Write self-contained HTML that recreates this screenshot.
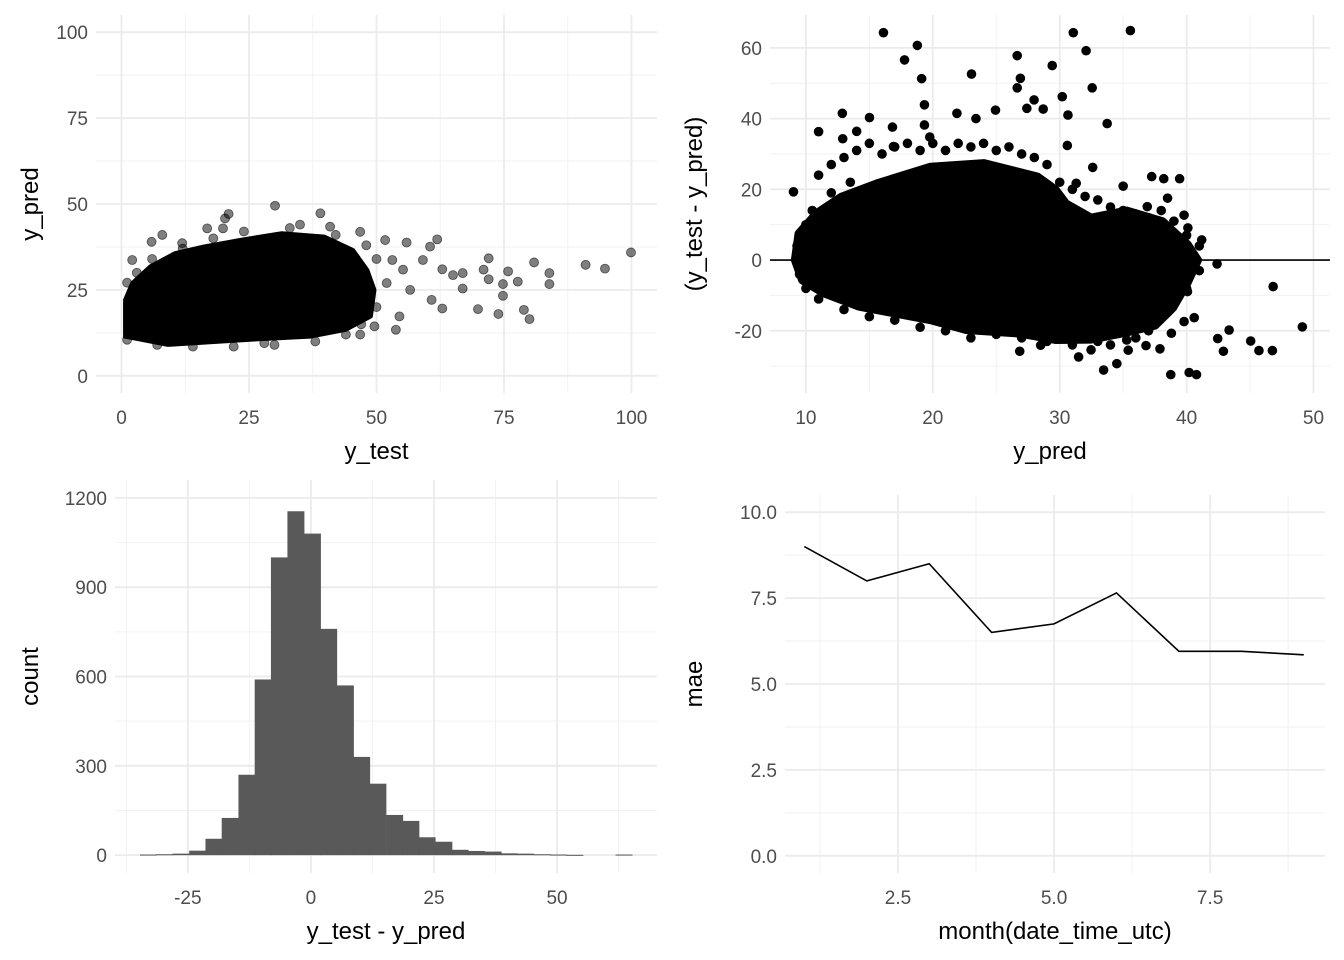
<!DOCTYPE html>
<html><head><meta charset="utf-8"><style>
html,body{margin:0;padding:0;background:#fff;}
svg{display:block;font-family:"Liberation Sans",sans-serif;}
.tick{fill:#4d4d4d;font-size:19px;}
.title{fill:#000;font-size:24px;}
</style></head><body>
<svg id="chart" width="1344" height="960" viewBox="0 0 1344 960" xmlns="http://www.w3.org/2000/svg"></svg>
<script>
// ---------- Panel 1: y_test vs y_pred ----------
const p1CoreX=[0.7,0.7,9.1,25.2,37.0,44.0,48.9,49.6,48.2,45.4,39.8,31.4,23.1,16.1,10.5,5.6,2.1];
const p1CoreY=[22.1,11.4,9.0,10.5,11.4,13.4,17.3,25.0,30.8,36.6,40.5,41.5,39.5,37.6,35.7,31.8,27.0];
const p1X=[30.1,39.0,21.0,20.3,19.9,8.0,5.9,46.8,55.9,61.9,60.5,59.1,62.9,65.0,66.9,66.9,69.9,71.0,72.0,72.0,74.8,74.8,73.9,75.8,77.7,78.9,80.0,80.9,83.9,83.9,91.0,94.8,99.9,53.8,46.8,28.0,1.1,1.1,2.1,11.9,16.8,40.9,51.7,53.1,55.2,56.6,54.5,49.6,60.8,62.9,3,6,12,18,24,33,42,50,52,50,47,44,38,30,22,14,7,2,35,48];
const p1Y=[49.5,47.3,47.1,45.8,42.9,41.0,39.0,41.9,38.8,39.7,37.6,33.7,31.0,29.3,29.9,25.4,19.4,30.9,34.2,28.1,26.7,23.3,18.0,30.4,27.4,19.2,16.5,33.0,29.9,26.7,32.3,31.2,35.9,13.4,12.0,9.5,10.5,27.1,33.7,38.6,42.9,43.4,39.5,33.7,30.9,25.0,17.3,14.4,22.1,19.6,30,34,37,40,42,43,41,34,27,20,15,12,10,9,8.5,8.5,9,16,44,38];
const p1XTicks=[0,25,50,75,100];
const p1YTicks=[0,25,50,75,100];

// ---------- Panel 2: residuals vs y_pred ----------
const p2CoreX=[9.13,9.42,10.82,12.79,15.6,19.82,24.04,28.26,29.66,30.5,32.47,35.28,38.1,40.07,40.9,40.07,38.94,37.54,35.28,32.47,29.66,26.85,22.63,19.82,17.0,14.2,11.39,9.7];
const p2CoreY=[0,7.5,13.2,17.9,21.7,26.4,27.4,23.6,20.0,16.0,12.0,14.0,11.0,4.5,0,-6.5,-13.5,-18.5,-20.5,-22.5,-22.6,-20.8,-19.8,-17.0,-15.1,-13.2,-9.4,-5.7];
const p2X=[16.11,18.78,17.77,19.12,23.05,31.07,35.57,32.08,26.65,29.41,26.9,26.65,32.56,19.34,27.98,27.41,28.7,30.2,30.65,24.94,21.9,23.4,33.74,12.87,15.01,16.82,11.0,14.0,12.9,19.34,19.76,16.9,30.6,9.02,37.25,38.2,39.45,32.6,31.3,35.0,38.5,36.9,39.8,40.1,41.19,42.4,46.82,49.12,43.35,42.45,42.9,45.05,45.7,46.76,38.75,40.2,40.78,33.46,34.5,31.49,26.85,28.5,35.4,37.9,36.8,40.6,39.8,38.8,40.07,35.28,32.47,
11,12,13,14,15,16,17,18,19,20,21,22,23,24,25,26,27,28,29,30,31,32,33,34,35,36,37,38,39,40,41,41,40,39,38,37,36,34,33,31,29,27,25,23,21,19,17,15,13,11,10,9.5,9.3,10,10.5,12,13.5];
const p2Y=[64.3,60.7,56.6,51.3,52.6,64.3,64.9,59.2,57.8,55.0,51.4,48.7,48.7,43.9,45.3,42.9,42.7,46.2,41.0,42.4,41.5,40.0,38.6,41.5,40.3,37.6,36.3,36.4,34.3,38.2,34.8,32.1,32.4,19.3,23.6,23.0,23.0,26.2,21.7,20.9,17.5,15.1,12.7,9.1,5.7,-1.1,-7.5,-18.9,-19.8,-22.2,-25.8,-22.9,-25.6,-25.6,-32.4,-31.8,-32.4,-31.1,-29.3,-27.4,-25.8,-24.1,-25.5,-25.1,-24.2,-16.3,-17.4,-20.7,-8.9,-22.6,-25.4,
24,27,29,31,33,30,32,33,31,33,31,33,32,33,31,32,30,29,27,22,20,18,17,15,14,13,12,14,11,7,4,-3,-8,-12,-14,-20,-22,-24,-23,-24,-23,-22,-21,-22,-20,-19,-17,-16,-14,-11,-8,-4,4,10,14,19,22];
const p2XTicks=[10,20,30,40,50];
const p2YTicks=[-20,0,20,40,60];

// ---------- Panel 3: histogram ----------
const binCenters=[-33.0,-29.7,-26.4,-23.0,-19.7,-16.4,-13.0,-9.7,-6.4,-3.05,0.3,3.6,7.0,10.3,13.6,17.0,20.3,23.6,27.0,30.3,33.6,37.0,40.3,43.6,47.0,50.3,53.6,57.0,60.3,63.6];
const binCounts=[2,3,5,15,55,125,270,590,1000,1155,1080,760,570,330,240,135,115,60,45,18,14,12,6,5,3,2,1,0,0,2];
const binWidth=3.33;
const p3XTicks=[-25,0,25,50];
const p3YTicks=[0,300,600,900,1200];

// ---------- Panel 4: mae by month ----------
const months=[1,2,3,4,5,6,7,8,9];
const maeValues=[9.0,8.0,8.5,6.5,6.75,7.65,5.95,5.95,5.85];
const p4XTicks=[2.5,5.0,7.5];
const p4YTicks=[0.0,2.5,5.0,7.5,10.0];

const NS="http://www.w3.org/2000/svg";
const svg=document.getElementById('chart');
function mk(tag,attrs,parent){const e=document.createElementNS(NS,tag);for(const k in attrs)e.setAttribute(k,attrs[k]);(parent||svg).appendChild(e);return e;}
function lin(d0,d1,r0,r1){return v=>r0+(v-d0)*(r1-r0)/(d1-d0);}

function panel(name,box,xd,yd,xT,yT,xTitle,yTitle,fmt){
  const g=mk('g',{});
  
  
  const sx=lin(xd[0],xd[1],box.l,box.r), sy=lin(yd[0],yd[1],box.b,box.t);
  const step=xT[1]-xT[0], ystep=yT[1]-yT[0];
  for(let v=xT[0]-step/2; v<=xT[xT.length-1]+step; v+=step){const x=sx(v); if(x>box.l&&x<box.r) mk('line',{x1:x,x2:x,y1:box.t,y2:box.b,stroke:'#f2f2f2','stroke-width':1},g);}
  for(let v=yT[0]-ystep/2; v<=yT[yT.length-1]+ystep; v+=ystep){const y=sy(v); if(y>box.t&&y<box.b) mk('line',{x1:box.l,x2:box.r,y1:y,y2:y,stroke:'#f2f2f2','stroke-width':1},g);}
  xT.forEach(v=>{const x=sx(v);mk('line',{x1:x,x2:x,y1:box.t,y2:box.b,stroke:'#ebebeb','stroke-width':1.8},g);
    const t=mk('text',{x:x,y:box.b+31,'text-anchor':'middle',class:'tick'},g);t.textContent=fmt?fmt(v):v;
    
    });
  yT.forEach(v=>{const y=sy(v);mk('line',{x1:box.l,x2:box.r,y1:y,y2:y,stroke:'#ebebeb','stroke-width':1.8},g);
    const t=mk('text',{x:box.l-8,y:y+7,'text-anchor':'end',class:'tick'},g);t.textContent=fmt?fmt(v):v;
    
    });
  const xt=mk('text',{x:(box.l+box.r)/2,y:box.b+66,'text-anchor':'middle',class:'title'},g);xt.textContent=xTitle;
  
  
  const cy=(box.t+box.b)/2;
  const yt=mk('text',{x:box.yx,y:cy,'text-anchor':'middle',class:'title',transform:`rotate(-90 ${box.yx} ${cy})`},g);yt.textContent=yTitle;
  
  
  return {g,sx,sy};
}

// Panel 1
const P1=panel('scatter-ytest-ypred',{l:96,r:657,t:15,b:393,yx:38},[-5,105],[-5,105],p1XTicks,p1YTicks,'y_test','y_pred');
let pts=p1CoreX.map((x,i)=>P1.sx(x)+','+P1.sy(p1CoreY[i])).join(' ');
const c1=mk('polygon',{points:pts,fill:'#000',stroke:'#000','stroke-width':4,'stroke-linejoin':'round'},P1.g);


p1X.forEach((x,i)=>{const c=mk('circle',{cx:P1.sx(x),cy:P1.sy(p1Y[i]),r:4.5,fill:'rgba(0,0,0,0.5)',stroke:'rgba(0,0,0,0.6)','stroke-width':0.8},P1.g);
  
  });

// Panel 2
const P2=panel('residuals-vs-pred',{l:770,r:1330,t:15,b:393,yx:702},[7.17,51.3],[-37.6,69.3],p2XTicks,p2YTicks,'y_pred','(y_test - y_pred)');
pts=p2CoreX.map((x,i)=>P2.sx(x)+','+P2.sy(p2CoreY[i])).join(' ');
const c2=mk('polygon',{points:pts,fill:'#000',stroke:'#000','stroke-width':8,'stroke-linejoin':'round'},P2.g);


p2X.forEach((x,i)=>{const c=mk('circle',{cx:P2.sx(x),cy:P2.sy(p2Y[i]),r:4.8,fill:'#000'},P2.g);
  
  });
const zl=mk('line',{x1:770,x2:1330,y1:P2.sy(0),y2:P2.sy(0),stroke:'#000','stroke-width':1.6},P2.g);



// Panel 3
const P3=panel('residual-histogram',{l:115,r:657,t:480,b:873,yx:38},[-39.8,70.3],[-60,1260],p3XTicks,p3YTicks,'y_test - y_pred','count');
binCenters.forEach((c,i)=>{if(binCounts[i]<=0)return;const x0=P3.sx(c-binWidth/2),x1=P3.sx(c+binWidth/2),y=P3.sy(binCounts[i]),y0=P3.sy(0);
  const r=mk('rect',{x:x0-0.3,y:y,width:x1-x0+0.6,height:Math.max(y0-y,1),fill:'#595959'},P3.g);
  
  });

// Panel 4
const P4=panel('mae-by-month',{l:785,r:1325,t:495,b:873,yx:702},[0.69,9.34],[-0.5,10.5],p4XTicks,p4YTicks,'month(date_time_utc)','mae',v=>v.toFixed(1));
const lp=mk('polyline',{points:months.map((m,i)=>P4.sx(m)+','+P4.sy(maeValues[i])).join(' '),fill:'none',stroke:'#000','stroke-width':1.6},P4.g);


</script>
</body></html>
